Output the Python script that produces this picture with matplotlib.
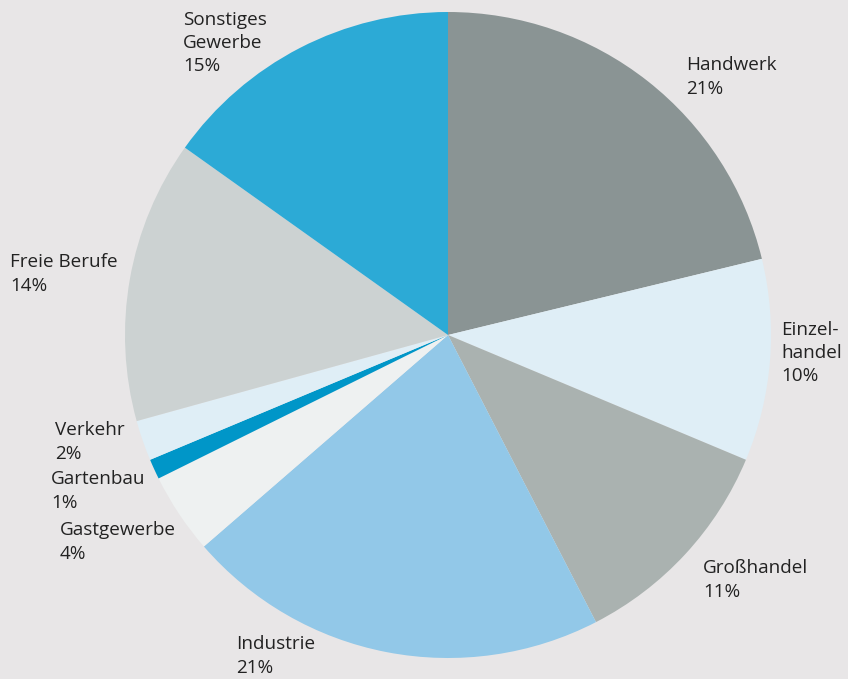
import matplotlib
matplotlib.use("Agg")
import matplotlib.pyplot as plt

# ---- data (clockwise from 12 o'clock) ------------------------------------ #
sectors = ["Handwerk", "Einzel-\nhandel", "Großhandel", "Industrie",
           "Gastgewerbe", "Gartenbau", "Verkehr", "Freie Berufe",
           "Sonstiges\nGewerbe"]
shares = [21, 10, 11, 21, 4, 1, 2, 14, 15]
colors = ["#8A9494", "#DFEEF6", "#AAB2B0", "#92C8E8", "#EEF1F1",
          "#0096C8", "#DFEEF6", "#CCD2D2", "#2CAAD6"]

BG = "#E8E6E7"
INK = "#222222"

# ---- layout (pixels in the 848x679 canvas) ------------------------------- #
W, H = 848, 679
CX, CY, R = 448, 335, 323
label_px = [(686, 77), (781, 353), (703, 580), (236, 656), (60, 542),
            (51, 491), (55, 442), (10, 274), (183, 43)]

plt.rcParams["font.family"] = ["Open Sans", "DejaVu Sans"]

fig = plt.figure(figsize=(W / 100, H / 100), dpi=100, facecolor=BG)
ax = fig.add_axes([0, 0, 1, 1])
ax.set_facecolor(BG)
ax.pie(shares, colors=colors, startangle=90, counterclock=False,
       radius=1.0, center=(0, 0), wedgeprops=dict(linewidth=0))
ax.set_xlim(-CX / R, (W - CX) / R)
ax.set_ylim(-(H - CY) / R, CY / R)
ax.set_aspect("equal")
ax.axis("off")

for name, val, (px, py) in zip(sectors, shares, label_px):
    ax.text((px - CX) / R, (CY - py) / R, "%s\n%d%%" % (name, val),
            ha="left", va="center", fontsize=13.6, color=INK,
            linespacing=1.38)

fig.savefig("out.png", dpi=100, facecolor=BG)
